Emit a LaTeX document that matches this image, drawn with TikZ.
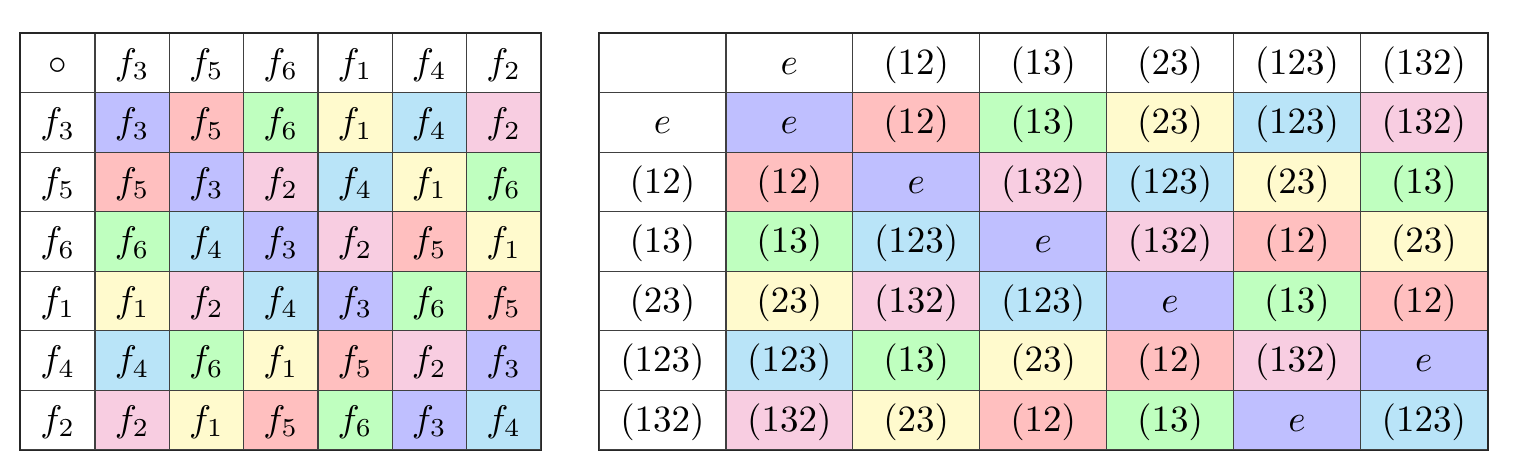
\documentclass[tikz,border=0pt]{standalone}
\usepackage{graphicx}
\usepackage{amsmath}
\usepackage{amssymb}

\definecolor{cA}{RGB}{191,191,255}
\definecolor{cB}{RGB}{255,191,191}
\definecolor{cC}{RGB}{191,255,191}
\definecolor{cD}{RGB}{255,250,205}
\definecolor{cE}{RGB}{185,228,248}
\definecolor{cF}{RGB}{248,205,225}

\def\fnA{f_3}\def\fnB{f_5}\def\fnC{f_6}\def\fnD{f_1}\def\fnE{f_4}\def\fnF{f_2}
\def\pmA{e}\def\pmB{(12)}\def\pmC{(13)}\def\pmD{(23)}\def\pmE{(123)}\def\pmF{(132)}
\newcommand{\celltext}[1]{\scalebox{1.85}{$#1$}}

\begin{document}
\begin{tikzpicture}[x=0.5pt,y=0.5pt]
\tikzstyle{every node}+=[inner sep=0pt]
\tikzstyle{cell}=[draw=black!75,line width=0.6pt,fill=white,minimum height=29.75pt,text height=11.3pt,text depth=0pt]
\tikzstyle{lcell}=[cell,minimum width=37.15pt]
\tikzstyle{rcell}=[cell,minimum width=63.45pt]
\useasboundingbox (0,0) rectangle (1516,-470);
\node [lcell] (L-0-0) at (57.85,-63.05) {\celltext{\circ}};
\node [rcell] (R-0-0) at (662.45,-63.05) {};
\foreach \x [count=\k] in {A,B,C,D,E,F} {
  \node [lcell] (L-0-\k) at (57.85+74.3*\k,-63.05) {\celltext{\csname fn\x\endcsname}};
  \node [lcell] (L-\k-0) at (57.85,-63.05-59.5*\k) {\celltext{\csname fn\x\endcsname}};
  \node [rcell] (R-0-\k) at (662.45+126.9*\k,-63.05) {\celltext{\csname pm\x\endcsname}};
  \node [rcell] (R-\k-0) at (662.45,-63.05-59.5*\k) {\celltext{\csname pm\x\endcsname}};
}
\foreach \row [count=\i] in {{A,B,C,D,E,F},{B,A,F,E,D,C},{C,E,A,F,B,D},{D,F,E,A,C,B},{E,C,D,B,F,A},{F,D,B,C,A,E}} {
  \foreach \x [count=\j] in \row {
    \node [lcell,fill=c\x] (L-\i-\j) at (57.85+74.3*\j,-63.05-59.5*\i) {\celltext{\csname fn\x\endcsname}};
    \node [rcell,fill=c\x] (R-\i-\j) at (662.45+126.9*\j,-63.05-59.5*\i) {\celltext{\csname pm\x\endcsname}};
  }
}
\draw [black!85,line width=0.9pt] (L-0-0.north west) rectangle (L-6-6.south east);
\draw [black!85,line width=0.9pt] (R-0-0.north west) rectangle (R-6-6.south east);
\end{tikzpicture}
\end{document}
